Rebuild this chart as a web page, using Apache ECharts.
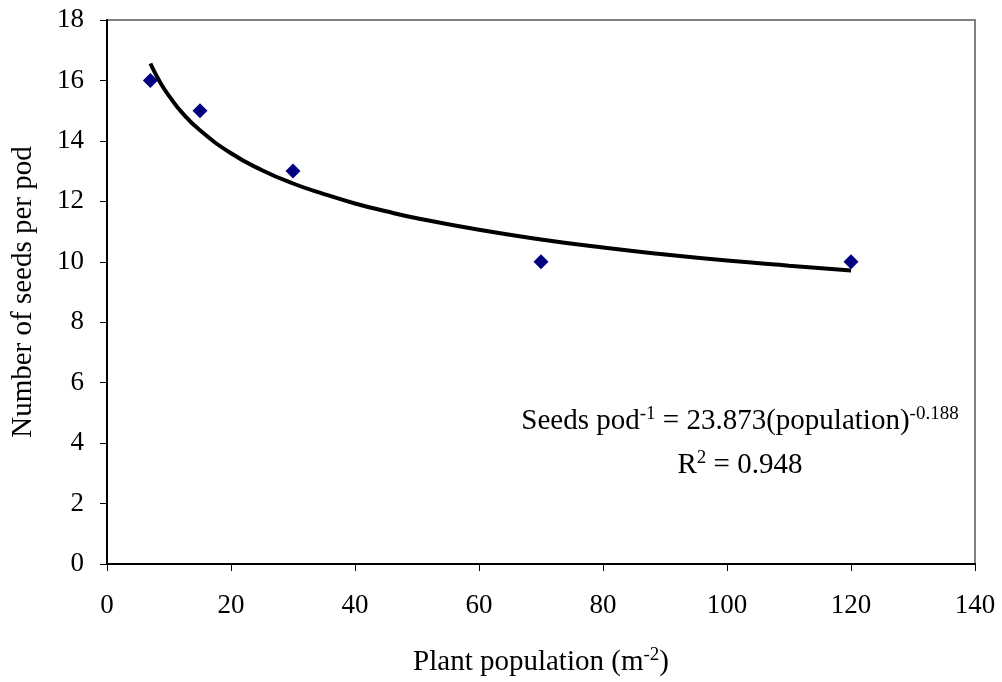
<!DOCTYPE html>
<html>
<head>
<meta charset="utf-8">
<script src="https://cdn.jsdelivr.net/npm/echarts@6/dist/echarts.min.js"></script>
<style>html,body{margin:0;padding:0;background:#fff;}#c{width:1002px;height:682px;}</style>
</head>
<body>
<div id="c"></div>
<script>
// Observed data
const population = [7, 15, 30, 70, 120];
const seedsPerPod = [16, 15, 13, 10, 10];
// Trend line values
const trendX = [7, 8, 9, 10, 12, 15, 20, 25, 30, 35, 40, 45, 50, 60, 70, 80, 90, 100, 110, 120];
const trendY = [16.56, 16.15, 15.79, 15.49, 14.96, 14.35, 13.59, 13.03, 12.59, 12.24, 11.93, 11.67, 11.44, 11.06, 10.74, 10.47, 10.24, 10.04, 9.87, 9.71];
const xTicks = [0, 20, 40, 60, 80, 100, 120, 140];
const yTicks = [0, 2, 4, 6, 8, 10, 12, 14, 16, 18];

const FONT = '"Liberation Serif", "Times New Roman", serif';
const chart = echarts.init(document.getElementById('c'), null, {renderer: 'canvas'});
const rich = {
  a: {fontFamily: FONT, fontSize: 29, color: '#000', lineHeight: 33},
  s: {fontFamily: FONT, fontSize: 19, color: '#000', verticalAlign: 'top', lineHeight: 33, padding: [0, 0, 12, 0]}
};
chart.setOption({
  animation: false,
  backgroundColor: '#fff',
  grid: {left: 107, right: 27, top: 20, bottom: 116, show: true, borderColor: '#808080', borderWidth: 2, backgroundColor: 'transparent'},
  xAxis: {
    type: 'value', min: xTicks[0], max: xTicks[xTicks.length - 1], interval: 20,
    name: '{a|Plant population (m}{s|-2}{a|)}', nameLocation: 'middle', nameGap: 82,
    nameTextStyle: {rich: rich},
    axisLine: {show: true, onZero: false, lineStyle: {color: '#000', width: 2}},
    axisTick: {show: true, inside: false, length: 7, lineStyle: {color: '#000', width: 1}},
    axisLabel: {fontFamily: FONT, fontSize: 27, color: '#000', margin: 28},
    splitLine: {show: false}
  },
  yAxis: {
    type: 'value', min: yTicks[0], max: yTicks[yTicks.length - 1], interval: 2,
    name: 'Number of seeds per pod', nameLocation: 'middle', nameGap: 69,
    nameTextStyle: {fontFamily: FONT, fontSize: 29, color: '#000'},
    axisLine: {show: true, onZero: false, lineStyle: {color: '#000', width: 2}},
    axisTick: {show: true, inside: false, length: 7, lineStyle: {color: '#000', width: 1}},
    axisLabel: {fontFamily: FONT, fontSize: 27, color: '#000', margin: 23},
    splitLine: {show: false}
  },
  series: [
    {
      type: 'line', data: trendX.map((x, i) => [x, trendY[i]]), smooth: true, showSymbol: false,
      lineStyle: {color: '#000', width: 4}, z: 2
    },
    {
      type: 'scatter', data: population.map((x, i) => [x, seedsPerPod[i]]),
      symbol: 'diamond', symbolSize: 15, itemStyle: {color: '#000080', opacity: 1}, z: 3
    }
  ],
  graphic: [
    {
      type: 'text', x: 740, y: 421,
      style: {text: '{a|Seeds pod}{s|-1}{a| = 23.873(population)}{s|-0.188}', rich: rich, align: 'center', verticalAlign: 'middle'}
    },
    {
      type: 'text', x: 740, y: 465,
      style: {text: '{a|R}{s|2}{a| = 0.948}', rich: rich, align: 'center', verticalAlign: 'middle'}
    }
  ]
});
</script>
</body>
</html>
